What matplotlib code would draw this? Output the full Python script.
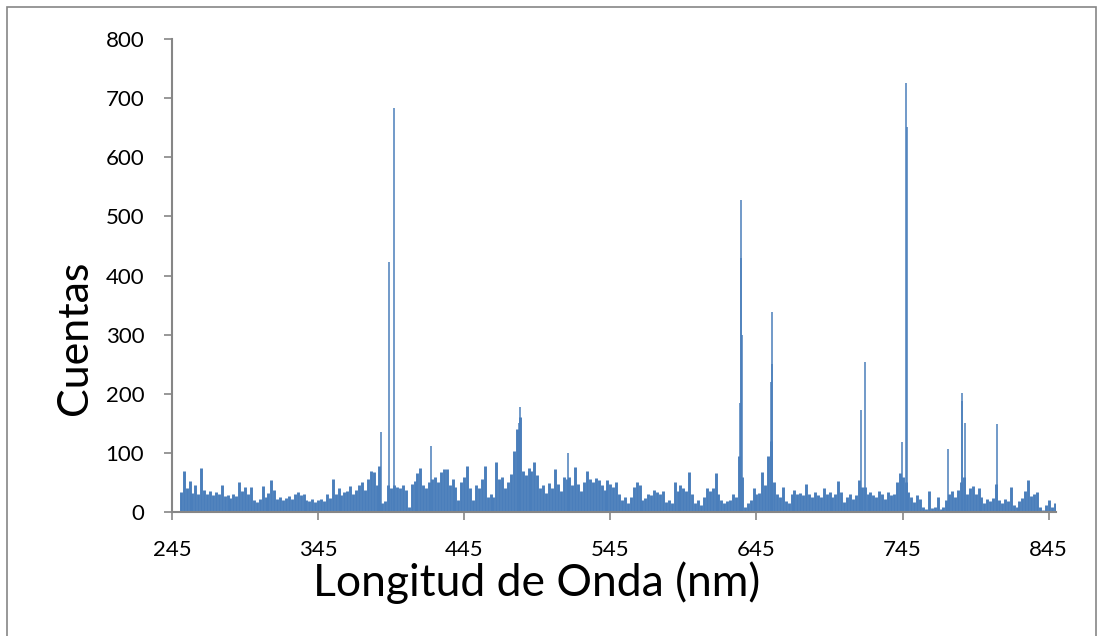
import numpy as np
import matplotlib
matplotlib.use("Agg")
import matplotlib.pyplot as plt
from matplotlib.patches import Rectangle

# Baseline spectrum counts, sampled every 2 nm starting at 251 nm
start_nm = 251
step_nm = 2
counts = [
    34, 70, 40, 53, 32, 45, 30, 74, 38, 30,   # 251-269
    35, 28, 33, 30, 46, 27, 29, 24, 30, 27,   # 271-289
    51, 35, 42, 30, 42, 20, 17, 22, 44, 25,   # 291-309
    32, 54, 38, 22, 25, 20, 23, 27, 22, 30,   # 311-329
    34, 28, 31, 20, 18, 22, 17, 20, 22, 18,   # 331-349
    30, 24, 55, 30, 40, 28, 33, 35, 44, 30,   # 351-369
    38, 45, 50, 38, 55, 70, 68, 45, 77, 15,   # 371-389
    18, 45, 40, 45, 42, 40, 45, 38, 8, 48,    # 391-409
    52, 66, 75, 45, 40, 50, 55, 60, 50, 68,   # 411-429
    72, 73, 45, 55, 42, 20, 50, 60, 78, 40,   # 431-449
    20, 45, 40, 55, 78, 25, 30, 25, 84, 55,   # 451-469
    60, 40, 50, 65, 103, 140, 160, 70, 62, 75,  # 471-489
    70, 85, 62, 40, 45, 32, 49, 40, 73, 48,   # 491-509
    35, 60, 55, 60, 45, 76, 48, 35, 50, 70,   # 511-529
    55, 50, 57, 54, 45, 37, 54, 48, 42, 50,   # 531-549
    30, 20, 25, 15, 25, 43, 50, 45, 20, 23,   # 551-569
    30, 28, 37, 33, 30, 36, 17, 20, 15, 51,   # 571-589
    35, 46, 40, 36, 68, 30, 15, 20, 12, 25,   # 591-609
    40, 35, 40, 66, 30, 20, 15, 18, 20, 30,   # 611-629
    25, 94, 60, 8, 16, 20, 40, 30, 32, 68,    # 631-649
    45, 94, 120, 50, 30, 25, 43, 18, 15, 30,  # 651-669
    37, 30, 32, 28, 48, 30, 25, 34, 28, 25,   # 671-689
    41, 30, 34, 25, 30, 53, 34, 17, 25, 30,   # 691-709
    22, 28, 54, 42, 42, 30, 34, 28, 25, 36,   # 711-729
    30, 22, 34, 28, 30, 51, 66, 60, 50, 33,   # 731-749
    25, 17, 28, 22, 8, 5, 35, 6, 8, 25,       # 751-769
    5, 8, 20, 30, 36, 25, 37, 50, 60, 30,     # 771-789
    40, 44, 30, 40, 25, 15, 22, 18, 24, 48,   # 791-809
    20, 15, 22, 18, 42, 12, 8, 18, 23, 35,    # 811-829
    54, 27, 30, 33, 8, 4, 11, 20, 8, 15,      # 831-849
]

# Sharp emission lines (wavelength nm, counts)
line_nm = [387.7, 393.2, 396.6, 422.2, 482.8, 483.5, 516.0, 633.8, 634.2, 634.6,
           635.0, 655.0, 655.4, 655.8, 716.7, 719.0, 744.4, 747.3, 747.7, 776.0,
           785.4, 786.0, 788.0, 809.6]
line_counts = [135, 422, 684, 112, 150, 177, 100, 185, 527, 430,
               300, 220, 338, 250, 172, 254, 119, 726, 652, 107,
               202, 187, 150, 148]

x_ticks = [245, 345, 445, 545, 645, 745, 845]
y_ticks = [0, 100, 200, 300, 400, 500, 600, 700, 800]

blue = "#4A7EBB"
grey = "#868686"

plt.rcParams['font.family'] = ['Lato', 'DejaVu Sans']

W, H = 1099, 636
fig = plt.figure(figsize=(W / 100, H / 100), dpi=100)
ax = fig.add_axes([172 / W, 1 - 512 / H, (1056 - 172) / W, (512 - 39) / H])

wl = start_nm + step_nm * np.arange(len(counts))
ax.vlines(wl, 0, counts, colors=blue, linewidth=2.1)
ax.vlines(line_nm, 0, line_counts, colors=blue, linewidth=1.1)

ax.set_xlim(245, 850)
ax.set_ylim(0, 800)
ax.set_xticks(x_ticks)
ax.set_yticks(y_ticks)
ax.tick_params(axis='both', direction='out', length=6, width=1.2, color=grey,
               labelsize=16, labelcolor='black')
ax.tick_params(axis='y', pad=14)
ax.tick_params(axis='x', pad=14)
for s in ['top', 'right']:
    ax.spines[s].set_visible(False)
for s in ['left', 'bottom']:
    ax.spines[s].set_color(grey)
    ax.spines[s].set_linewidth(1.5)

fig.text(537 / W, 1 - 583 / H, "Longitud de Onda (nm)", fontsize=32,
         ha='center', va='center')
fig.text(75 / W, 1 - 338 / H, "Cuentas", fontsize=31, rotation=90,
         ha='center', va='center')

fig.patches.append(Rectangle((7 / W, -10 / H), 1089 / W, (629 + 10) / H,
                             transform=fig.transFigure, fill=False,
                             edgecolor=grey, linewidth=1.2))

fig.savefig("out.png", dpi=100)
